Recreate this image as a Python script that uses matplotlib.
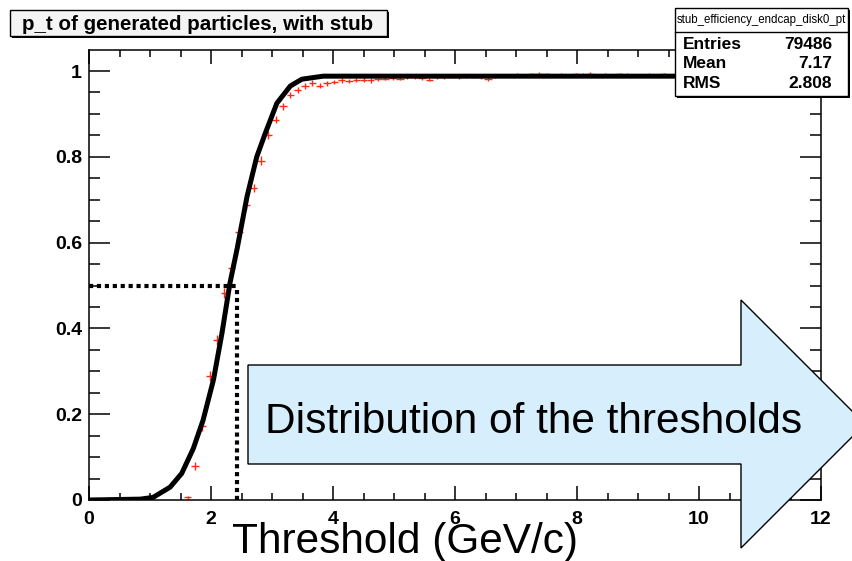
import numpy as np
import matplotlib
matplotlib.use("Agg")
import matplotlib.pyplot as plt
from matplotlib.patches import Rectangle, Polygon

plt.rcParams["font.family"] = ["Liberation Sans", "DejaVu Sans"]

# histogram binning: 100 bins from 0 to 12 GeV/c
n_bins = 100
pt_min, pt_max = 0.0, 12.0
first_bin = 13  # bins below this are empty

eff = [0.006, 0.079, 0.173, 0.289, 0.373, 0.483, 0.540, 0.625, 0.688, 0.727,
       0.791, 0.851, 0.886, 0.918, 0.944, 0.955, 0.965, 0.972, 0.966, 0.971,
       0.975, 0.978, 0.977, 0.979, 0.980, 0.978, 0.981, 0.982, 0.984, 0.982,
       0.985, 0.986, 0.984, 0.980, 0.986, 0.985, 0.987, 0.986, 0.988, 0.987,
       0.986, 0.981, 0.988, 0.990, 0.989, 0.991, 0.990, 0.992, 0.993, 0.992,
       0.990, 0.991, 0.990, 0.992, 0.991, 0.993, 0.990, 0.991, 0.990, 0.992,
       0.991, 0.990, 0.989, 0.991, 0.990, 0.992, 0.990]
eff_err = [0.004, 0.010, 0.012, 0.012, 0.012, 0.012, 0.012, 0.011, 0.011, 0.010,
           0.010, 0.009, 0.008, 0.008, 0.007, 0.007, 0.006, 0.006, 0.006, 0.005,
           0.005, 0.005, 0.005, 0.005, 0.005, 0.005, 0.005, 0.004, 0.004, 0.004,
           0.004, 0.004, 0.004, 0.004, 0.004, 0.004, 0.004, 0.004, 0.004, 0.004,
           0.004, 0.004, 0.004, 0.004, 0.004, 0.004, 0.004, 0.004, 0.004, 0.004,
           0.004, 0.004, 0.004, 0.004, 0.004, 0.004, 0.004, 0.004, 0.004, 0.004,
           0.004, 0.004, 0.004, 0.004, 0.004, 0.004, 0.004]

# fitted turn-on curve
fit_x = [0.0, 0.84, 1.05, 1.33, 1.52, 1.71, 1.87, 2.04, 2.18, 2.31, 2.43, 2.59,
         2.75, 2.89, 3.08, 3.30, 3.49, 3.84, 12.0]
fit_y = [0.0, 0.002, 0.006, 0.030, 0.062, 0.120, 0.186, 0.280, 0.389, 0.505,
         0.587, 0.707, 0.800, 0.855, 0.925, 0.965, 0.981, 0.988, 0.988]

half_eff = 0.5
threshold = 2.43

hist_name = "stub_efficiency_endcap_disk0_pt"
stats_labels = ["Entries", "Mean", "RMS"]
stats_values = ["79486", "7.17", "2.808"]

y_ticks = [0, 0.2, 0.4, 0.6, 0.8, 1.0]
y_ticklabels = ["0", "0.2", "0.4", "0.6", "0.8", "1"]
x_ticks = [0, 2, 4, 6, 8, 10, 12]

edges = np.linspace(pt_min, pt_max, n_bins + 1)
centers = 0.5 * (edges[1:] + edges[:-1])
bin_w = edges[1] - edges[0]
cx = centers[first_bin:first_bin + len(eff)]

fig = plt.figure(figsize=(8.52, 5.61), dpi=100)
W, H = 852, 561
ax = fig.add_axes([89 / W, 61 / H, 732 / W, 450 / H])

ax.errorbar(cx, eff, xerr=bin_w / 2, yerr=eff_err, fmt="none",
            ecolor="#ff2a10", elinewidth=1.0, zorder=2)
ax.plot(fit_x, fit_y, color="black", lw=3.6, solid_joinstyle="round",
        solid_capstyle="round", zorder=3)
ax.plot([0, threshold], [half_eff, half_eff], color="black", lw=3,
        linestyle=(0, (1, 0.9)), dash_capstyle="butt", zorder=4)
ax.plot([threshold, threshold], [half_eff - 0.01, 0], color="black", lw=3,
        linestyle=(0, (1, 0.9)), dash_capstyle="butt", zorder=4)

ax.set_xlim(pt_min, pt_max)
ax.set_ylim(0, 1.049)
ax.set_xticks(x_ticks)
ax.set_xticks(np.arange(0, 12.01, 0.5), minor=True)
ax.set_yticks(y_ticks)
ax.set_yticklabels(y_ticklabels)
ax.set_yticks(np.arange(0, 1.049, 0.05), minor=True)
for s in ax.spines.values():
    s.set_linewidth(1.1)
ax.tick_params(axis="both", which="both", direction="in", top=True, right=True,
               width=1.1, labelsize=14)
ax.tick_params(axis="x", which="major", length=10, pad=8)
ax.tick_params(axis="x", which="minor", length=5)
ax.tick_params(axis="y", which="major", length=15, pad=5)
ax.tick_params(axis="y", which="minor", length=8)
for lab in ax.get_xticklabels() + ax.get_yticklabels():
    lab.set_fontweight("bold")

# overlay in pixel coordinates for the boxes and the arrow
ov = fig.add_axes([0, 0, 1, 1], zorder=5)
ov.set_xlim(0, W)
ov.set_ylim(H, 0)
ov.axis("off")
ov.patch.set_alpha(0)

# title box
ov.add_patch(Rectangle((12, 12), 377, 26, facecolor="black", lw=0))
ov.add_patch(Rectangle((10, 10), 377, 26, facecolor="#f4f4f4",
                       edgecolor="black", lw=1))
ov.text(22, 24, "p_t of generated particles, with stub", fontsize=14.8,
        fontweight="bold", va="center", ha="left")

# stats box
ov.add_patch(Rectangle((677, 10), 173, 88, facecolor="black", lw=0))
ov.add_patch(Rectangle((675, 8), 173, 88, facecolor="white",
                       edgecolor="black", lw=1))
ov.plot([675, 848], [32, 32], color="black", lw=1)
ov.text(761, 20, hist_name, fontsize=8.3, ha="center", va="center")
for i, (lab, val) in enumerate(zip(stats_labels, stats_values)):
    yy = 44 + i * 19.5
    ov.text(683, yy, lab, fontsize=12.5, fontweight="bold", va="center", ha="left")
    ov.text(832, yy, val, fontsize=12.5, fontweight="bold", va="center", ha="right")

# big arrow
arrow = Polygon([(248, 365), (741, 365), (741, 300), (865, 424), (741, 548),
                 (741, 464), (248, 464)], closed=True, facecolor="#d7effc",
                edgecolor="black", lw=1)
ov.add_patch(arrow)
ov.text(534, 433, "Distribution of the thresholds", fontsize=30.5,
        ha="center", va="baseline")

ov.text(405, 553, "Threshold (GeV/c)", fontsize=30.5, ha="center", va="baseline")

fig.savefig("out.png", dpi=100)
